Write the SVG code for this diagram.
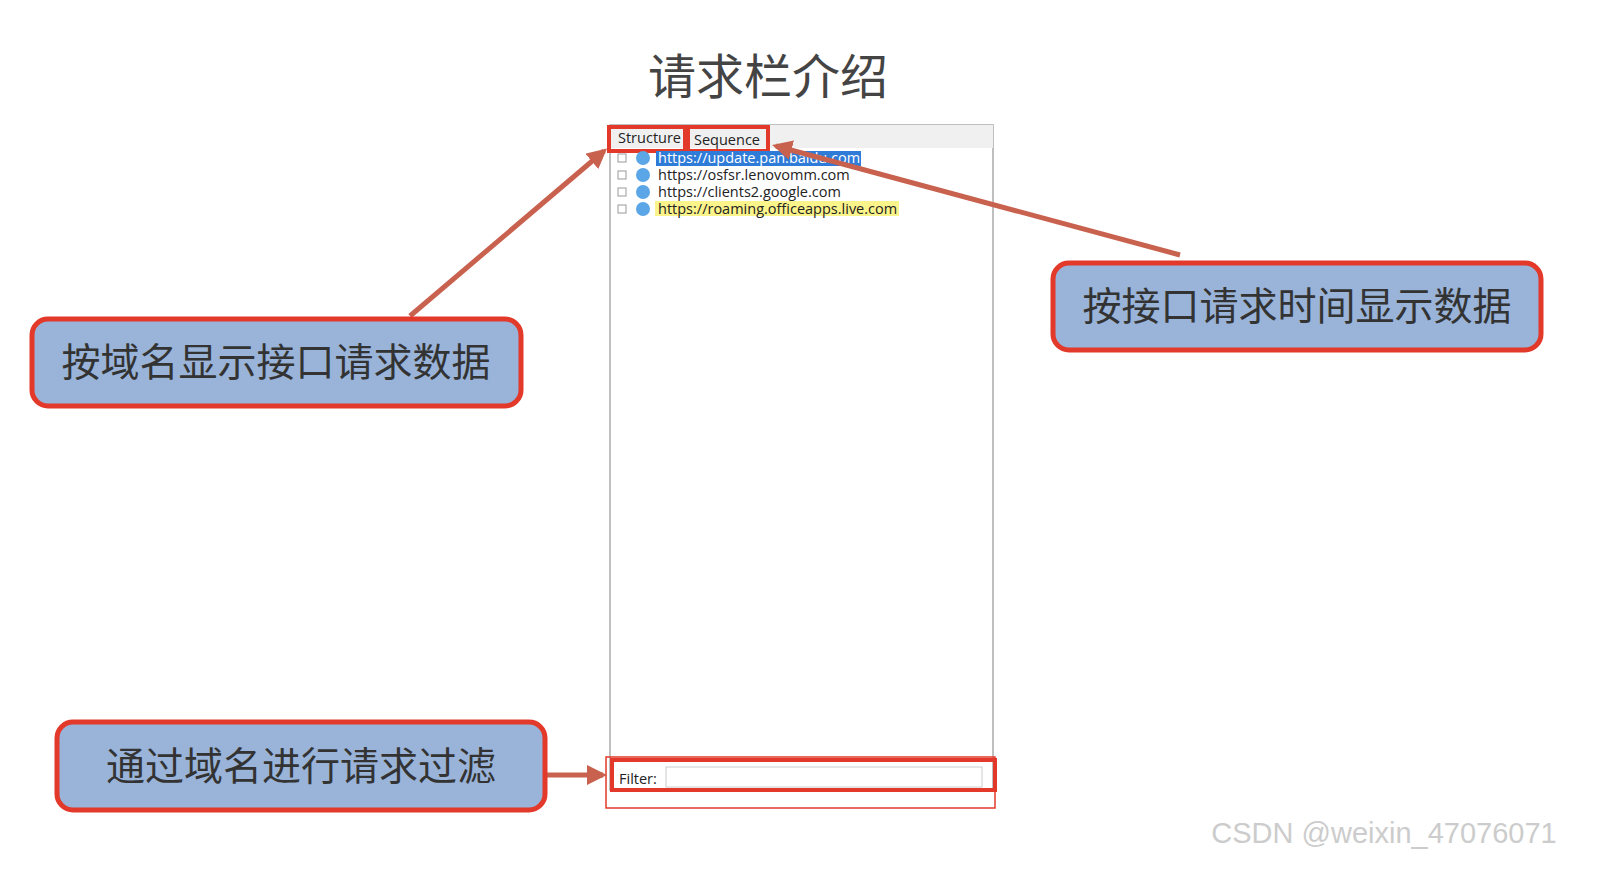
<svg xmlns="http://www.w3.org/2000/svg" width="1614" height="886" viewBox="0 0 1614 886">
<style>
.box{fill:#99b3d9;stroke:#e2392a;stroke-width:5}
.lbl{font-family:"Noto Sans CJK SC",sans-serif;font-size:39px;fill:#333;text-anchor:middle}
.url{font-family:"Open Sans","DejaVu Sans",sans-serif;font-size:14.5px;fill:#222}
.red{fill:none;stroke:#e2392a;stroke-width:4}
.con{stroke:#c9614f;stroke-width:5;fill:none}
</style>
<defs>
<marker id="ah" viewBox="0 0 10 10" refX="8" refY="5" markerWidth="4" markerHeight="4" orient="auto"><path d="M0,0L10,5L0,10z" fill="#c9614f"/></marker>
</defs>
<rect width="1614" height="886" fill="#fff"/>
<text x="768" y="94" font-family="'Noto Sans CJK SC',sans-serif" font-size="48" fill="#444" text-anchor="middle">请求栏介绍</text>
<g id="panel">
<rect x="610" y="125" width="383" height="665" fill="#fff" stroke="#aaa" stroke-width="1.5"/>
<rect x="610" y="125" width="383" height="23" fill="#f0f0f0"/>
<rect x="609" y="127" width="76" height="24" class="red" fill="#fff"/>
<rect x="688" y="127" width="80" height="24" class="red"/>
<text x="618" y="143" class="url" font-size="13.5">Structure</text>
<text x="694" y="145" class="url" font-size="13.5">Sequence</text>
<rect x="656" y="151" width="205" height="15" fill="#2f7bd8"/>
<rect x="655" y="201" width="244" height="15" fill="#fbf48a"/>
<g fill="none" stroke="#999"><rect x="618" y="154" width="8" height="8"/><rect x="618" y="171" width="8" height="8"/><rect x="618" y="188" width="8" height="8"/><rect x="618" y="205" width="8" height="8"/></g>
<g fill="#5aa6e6"><circle cx="643" cy="158" r="7"/><circle cx="643" cy="175" r="7"/><circle cx="643" cy="192" r="7"/><circle cx="643" cy="209" r="7"/></g>
<text x="658" y="163" class="url" style="fill:#fff">https://update.pan.baidu.com</text>
<text x="658" y="180" class="url">https://osfsr.lenovomm.com</text>
<text x="658" y="197" class="url">https://clients2.google.com</text>
<text x="658" y="214" class="url">https://roaming.officeapps.live.com</text>
<rect x="612" y="760" width="383" height="30" class="red"/>
<rect x="606" y="757" width="389" height="51" fill="none" stroke="#e2392a" stroke-width="1.5"/>
<text x="619" y="784" class="url" font-size="13">Filter:</text>
<rect x="666" y="767" width="316" height="20" fill="#fff" stroke="#ccc"/>
</g>
<g id="connectors">
<line x1="410" y1="316" x2="604" y2="151" class="con" marker-end="url(#ah)"/>
<line x1="1180" y1="255" x2="776" y2="146" class="con" marker-end="url(#ah)"/>
<line x1="547" y1="775" x2="603" y2="775" class="con" marker-end="url(#ah)"/>
</g>
<g id="n1"><rect x="32" y="319" width="489" height="87" rx="16" class="box"/><text x="276" y="376" class="lbl">按域名显示接口请求数据</text></g>
<g id="n2"><rect x="1053" y="263" width="488" height="87" rx="16" class="box"/><text x="1297" y="320" class="lbl">按接口请求时间显示数据</text></g>
<g id="n3"><rect x="57" y="722" width="488" height="88" rx="16" class="box"/><text x="301" y="780" class="lbl">通过域名进行请求过滤</text></g>
<text x="1384" y="843" font-family="'Liberation Sans',sans-serif" font-size="29" fill="#ccc" text-anchor="middle">CSDN @weixin_47076071</text>
</svg>
